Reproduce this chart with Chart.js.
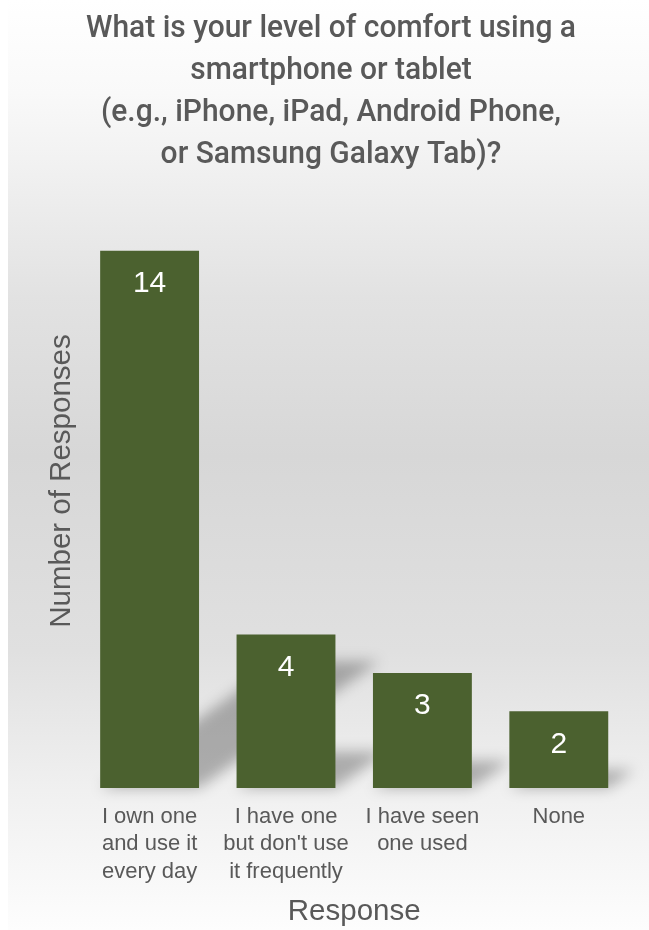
<!DOCTYPE html>
<html>
<head>
<meta charset="utf-8">
<script src="https://cdn.jsdelivr.net/npm/chart.js@4.4.1/dist/chart.umd.min.js"></script>
<style>
  html, body { margin: 0; padding: 0; overflow: hidden; }
  body {
    background:
      linear-gradient(to right, #ffffff 0, #ffffff 8px, rgba(255, 255, 255, 0) 8px),
      linear-gradient(to bottom, #ffffff 0%, #f9f9f9 10%, #f2f2f2 17%, #e2e2e2 32%,
                      #d7d7d7 49%, #e0e0e0 70%, #f0f0f0 85%, #fdfdfd 100%);
    background-size: 100% 930px;
    background-repeat: no-repeat;
  }
  #wrap { width: 649px; height: 930px; }
  canvas { display: block; }
</style>
</head>
<body>
<div id="wrap"><canvas id="barChart" width="649" height="930"></canvas></div>
<script>
// Survey answers and their counts
var categories = [
    ["I own one", "and use it", "every day"],
    ["I have one", "but don't use", "it frequently"],
    ["I have seen", "one used"],
    "None"
];
var responses = [14, 4, 3, 2];

var titleLines = [
    "What is your level of comfort using a",
    "smartphone or tablet",
    "(e.g., iPhone, iPad, Android Phone,",
    "or Samsung Galaxy Tab)?"
];

var barColor = "#4b612f";
var textColor = "#595959";
var sansFont = "'Liberation Sans', Arial, sans-serif";

// Narrow four-line heading above the plot
var heading = {
    id: "heading",
    afterDraw: function (chart) {
        var ctx = chart.ctx;
        ctx.save();
        ctx.font = "500 31px Roboto, 'DejaVu Sans Condensed', sans-serif";
        ctx.fillStyle = textColor;
        ctx.textAlign = "center";
        ctx.textBaseline = "alphabetic";
        var squeeze = 490 / ctx.measureText(titleLines[0]).width;
        var cx = 331;
        titleLines.forEach(function (line, i) {
            ctx.save();
            ctx.translate(cx, 37 + i * 42);
            ctx.scale(squeeze, 1);
            ctx.fillText(line, 0, 0);
            ctx.restore();
        });
        ctx.restore();
    }
};

// Blurred floor shadow cast back and to the right of each bar
var barShadows = {
    id: "barShadows",
    beforeDatasetsDraw: function (chart) {
        var ctx = chart.ctx;
        var meta = chart.getDatasetMeta(0);
        ctx.save();
        ctx.filter = "blur(7px)";
        ctx.fillStyle = "rgba(0, 0, 0, 0.28)";
        meta.data.forEach(function (bar) {
            var p = bar.getProps(["x", "y", "base", "width"], true);
            var h = p.base - p.y;
            var dx = h * 0.335;
            var dy = h * 0.236;
            var l = p.x - p.width / 2;
            var r = p.x + p.width / 2;
            ctx.beginPath();
            ctx.moveTo(l, p.base);
            ctx.lineTo(r, p.base);
            ctx.lineTo(r + dx, p.base - dy);
            ctx.lineTo(l + dx, p.base - dy);
            ctx.closePath();
            ctx.fill();
        });
        ctx.restore();
    }
};

// Count printed inside the top of each bar
var valueLabels = {
    id: "valueLabels",
    afterDatasetsDraw: function (chart) {
        var ctx = chart.ctx;
        var meta = chart.getDatasetMeta(0);
        ctx.save();
        ctx.fillStyle = "#ffffff";
        ctx.font = "30px " + sansFont;
        ctx.textAlign = "center";
        ctx.textBaseline = "middle";
        meta.data.forEach(function (bar, i) {
            ctx.fillText(String(responses[i]), bar.x, bar.y + 33);
        });
        ctx.restore();
    }
};

var ctx = document.getElementById("barChart").getContext("2d");

var myBarChart = new Chart(ctx, {
    type: "bar",
    data: {
        labels: categories,
        datasets: [
            {
                data: responses,
                backgroundColor: barColor,
                borderWidth: 0,
                barPercentage: 0.725,
                categoryPercentage: 1.0
            }
        ]
    },
    options: {
        responsive: false,
        animation: false,
        events: [],
        layout: {
            padding: { left: 44, right: 22, top: 174, bottom: 0 }
        },
        plugins: {
            legend: { display: false },
            tooltip: { enabled: false },
            title: { display: false }
        },
        scales: {
            x: {
                grid: { display: false, drawTicks: false },
                border: { display: false },
                ticks: {
                    color: textColor,
                    font: { family: sansFont, size: 22, lineHeight: 1.25 },
                    padding: 15,
                    maxRotation: 0,
                    autoSkip: false
                },
                title: {
                    display: true,
                    text: "Response",
                    color: textColor,
                    font: { family: sansFont, size: 29.5, lineHeight: 1.2 },
                    padding: { top: -6, bottom: 0 }
                }
            },
            y: {
                min: 0,
                max: 16,
                grid: { display: false, drawTicks: false },
                border: { display: false },
                ticks: { display: false },
                title: {
                    display: true,
                    text: "Number of Responses",
                    color: textColor,
                    font: { family: sansFont, size: 29.5, lineHeight: 1.2 },
                    padding: { top: 0, bottom: 2 }
                }
            }
        }
    },
    plugins: [barShadows, valueLabels, heading]
});
</script>
</body>
</html>
